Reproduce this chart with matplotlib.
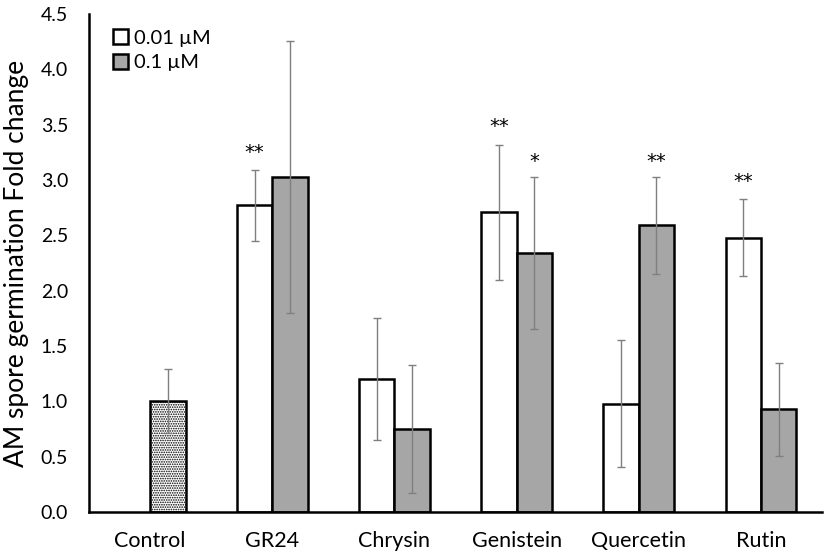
import matplotlib.pyplot as plt
import matplotlib as mpl
import numpy as np

plt.rcParams['font.family'] = ['Lato', 'DejaVu Sans']
mpl.rcParams['hatch.linewidth'] = 0.8

categories = ['Control', 'GR24', 'Chrysin', 'Genistein', 'Quercetin', 'Rutin']

control_val = 1.0
control_err = 0.29

# 0.01 uM and 0.1 uM series (GR24 .. Rutin)
low_vals = [2.77, 1.20, 2.71, 0.98, 2.48]
low_err = [0.32, 0.55, 0.61, 0.57, 0.35]
high_vals = [3.03, 0.75, 2.34, 2.59, 0.93]
high_err = [1.23, 0.58, 0.69, 0.44, 0.42]

# significance marks (index into GR24..Rutin)
low_stars = ['**', '', '**', '', '**']
high_stars = ['', '', '*', '**', '']

fig = plt.figure(figsize=(8.27, 5.58), dpi=100)
ax = fig.add_axes([0.1076, 0.0825, 0.8864, 0.8925])

w = 0.29
x = np.arange(1, len(categories))
ekw = dict(ecolor='#7f7f7f', elinewidth=1.0, capsize=3, capthick=1.0)

ax.bar(0 + w / 2, control_val, w, yerr=control_err, color='white',
       edgecolor='black', linewidth=1.8, hatch='.......', error_kw=ekw, zorder=2)
b1 = ax.bar(x - w / 2, low_vals, w, yerr=low_err, color='white',
            edgecolor='black', linewidth=1.8, error_kw=ekw, label='0.01 µM', zorder=2)
b2 = ax.bar(x + w / 2, high_vals, w, yerr=high_err, color='#a6a6a6',
            edgecolor='black', linewidth=1.8, error_kw=ekw, label='0.1 µM', zorder=2)

for i in range(len(x)):
    if low_stars[i]:
        ax.text(x[i] - w / 2, low_vals[i] + low_err[i] + 0.16, low_stars[i],
                ha='center', va='center', fontsize=14, family='DejaVu Sans')
    if high_stars[i]:
        ax.text(x[i] + w / 2, high_vals[i] + high_err[i] + 0.14, high_stars[i],
                ha='center', va='center', fontsize=14, family='DejaVu Sans')

ax.set_xlim(-0.5, 5.5)
ax.set_ylim(0, 4.5)
ax.set_yticks(np.arange(0, 4.51, 0.5))
ax.yaxis.set_major_formatter(mpl.ticker.FormatStrFormatter('%.1f'))
ax.set_xticks(np.arange(len(categories)))
ax.set_xticklabels(categories)
ax.tick_params(axis='y', length=0, labelsize=14, pad=15)
ax.tick_params(axis='x', length=0, labelsize=15.5, pad=14)
ax.set_ylabel('AM spore germination Fold change', fontsize=19)
ax.yaxis.set_label_coords(-0.082, 0.5)

for s in ['top', 'right']:
    ax.spines[s].set_visible(False)
for s in ['left', 'bottom']:
    ax.spines[s].set_linewidth(1.8)

ax.legend(handles=[b1, b2], loc='upper left', bbox_to_anchor=(0.022, 0.985),
          frameon=False, fontsize=14.5, handlelength=0.75, handleheight=0.75,
          handletextpad=0.3, labelspacing=0.35, borderaxespad=0)

fig.savefig('out.png', dpi=100)
